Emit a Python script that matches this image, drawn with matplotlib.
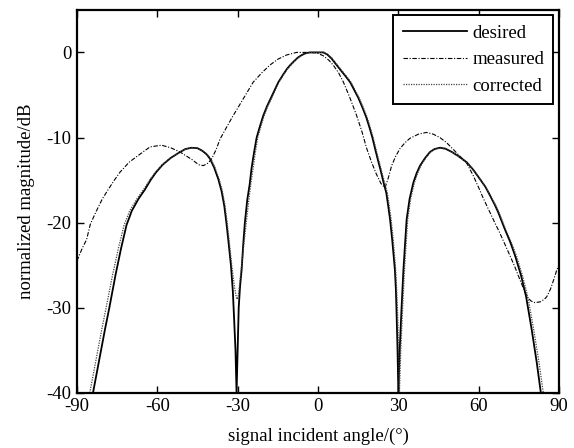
import matplotlib
matplotlib.use("Agg")
import matplotlib.pyplot as plt
import numpy as np

# values (angle in degrees, magnitude in dB)
desired_angle = [-84.0, -82.5, -81.0, -79.5, -77.9, -75.5, -73.5, -71.5, -69.5, -67.0,
                 -64.6, -62.5, -60.5, -58.0, -55.0, -52.0, -49.5, -47.2, -45.0, -43.0,
                 -41.5, -40.3, -38.8, -37.2, -36.0, -35.0, -34.2, -33.5, -32.5, -31.8,
                 -31.3, -30.8, -30.4,
                 -30.0, -29.6, -29.1, -28.5, -27.9, -27.3, -26.4, -25.5, -24.8, -23.9,
                 -22.9, -21.7, -20.4, -19.0, -17.5, -16.0, -14.8, -13.0, -11.5, -10.4,
                 -9.0, -7.5, -6.0, -4.5, -3.0, 2.0, 3.5, 5.0, 7.0, 8.5,
                 10.3, 12.0, 13.5, 15.0, 16.5, 18.0, 19.3, 20.3, 21.3, 22.5,
                 23.5, 24.4, 25.5, 26.2, 26.9, 27.7, 28.7, 29.1, 29.4, 29.7,
                 30.0,
                 30.5, 31.2, 31.9, 32.5, 33.1, 34.2, 35.6, 36.8, 38.1, 40.0,
                 41.8, 43.5, 45.5, 47.5, 50.0, 52.5, 55.5, 58.0, 60.5, 62.5,
                 64.2, 66.0, 67.3, 69.8, 71.8, 73.6, 75.8, 77.7, 79.8, 81.7,
                 83.2]
desired_db = [-40.0, -37.5, -35.0, -32.5, -30.0, -26.0, -23.0, -20.3, -18.6, -17.2,
              -16.1, -15.0, -14.1, -13.2, -12.4, -11.8, -11.35, -11.2, -11.25, -11.6,
              -12.0, -12.5, -13.5, -14.9, -16.3, -18.0, -20.0, -22.0, -25.0, -28.0,
              -31.4, -35.0, -40.0,
              -35.0, -30.0, -27.5, -25.5, -22.5, -20.0, -17.3, -15.5, -13.6, -11.8,
              -10.0, -8.7, -7.4, -6.3, -5.3, -4.3, -3.5, -2.6, -1.9, -1.5,
              -1.05, -0.6, -0.3, -0.08, 0.0, 0.0, -0.25, -0.7, -1.5, -2.1,
              -2.8, -3.5, -4.4, -5.3, -6.4, -7.6, -8.9, -10.0, -11.3, -12.8,
              -14.0, -15.2, -16.5, -18.0, -19.6, -22.0, -25.5, -28.0, -31.4, -35.0,
              -40.0,
              -35.0, -30.0, -25.5, -22.5, -19.6, -17.2, -15.3, -14.2, -13.3, -12.4,
              -11.7, -11.35, -11.2, -11.3, -11.7, -12.2, -12.9, -13.8, -14.9, -15.8,
              -16.8, -17.9, -18.8, -20.8, -22.3, -23.9, -26.2, -28.7, -32.6, -36.5,
              -40.0]

measured_angle = [-90.0, -88.0, -86.4, -85.0, -83.0, -80.5, -78.3, -76.0, -74.0, -70.5,
                  -67.1, -62.7, -58.4, -55.0, -51.5, -47.0, -44.5, -42.8, -41.0, -39.7,
                  -38.0, -36.6, -34.5, -32.0, -28.0, -24.2, -21.0, -18.0, -15.0, -11.7,
                  -8.0, -4.0, -0.5, 2.0, 4.0, 5.7, 7.7, 9.5, 12.0, 14.4,
                  16.4, 18.2, 20.0, 21.8, 23.5, 25.0, 26.2, 27.5, 29.0, 30.6,
                  32.5, 34.3, 37.5, 40.5, 43.0, 45.5, 48.0, 50.5, 53.0, 55.5,
                  58.0, 60.0, 61.8, 64.2, 66.0, 68.0, 70.0, 71.7, 73.5, 75.5,
                  78.0, 79.5, 81.0, 83.0, 84.5, 85.4, 86.8, 88.0, 89.1, 90.0]
measured_db = [-24.5, -23.0, -22.0, -20.2, -18.8, -17.2, -16.1, -15.0, -14.1, -12.9,
               -12.1, -11.1, -10.9, -11.2, -11.7, -12.6, -13.2, -13.3, -13.0, -12.5,
               -11.4, -10.2, -9.0, -7.6, -5.5, -3.5, -2.4, -1.5, -0.8, -0.3,
               0.0, 0.0, -0.05, -0.4, -0.9, -1.5, -2.4, -3.5, -5.4, -7.4,
               -9.3, -11.3, -12.9, -14.3, -15.4, -15.9, -14.8, -13.3, -12.2, -11.3,
               -10.6, -10.1, -9.6, -9.4, -9.6, -10.0, -10.6, -11.4, -12.2, -13.0,
               -14.5, -15.9, -17.2, -18.8, -20.0, -21.3, -22.7, -23.9, -25.2, -26.8,
               -28.7, -29.2, -29.4, -29.3, -29.0, -28.7, -27.8, -26.7, -25.6, -24.9]

corrected_angle = [-85.2, -83.7, -82.2, -80.7, -79.1, -76.6, -74.5, -72.4, -70.3, -67.6,
                   -65.1, -62.9, -60.8, -58.2, -55.1, -52.0, -49.4, -47.0, -44.8, -42.8,
                   -41.3, -40.0, -38.5, -36.9, -35.7, -34.7, -33.9, -33.2, -32.2, -31.2,
                   -30.6, -30.2,
                   -29.7, -29.2, -28.7, -28.0, -27.3, -26.6, -25.8, -25.1, -24.2, -23.4,
                   -22.5, -21.3, -20.1, -18.7, -17.2, -15.8, -14.6, -12.8, -11.3, -10.2,
                   -8.8, -7.3, -5.8, -4.3, -2.8, 2.2, 3.7, 5.3, 7.3, 8.8,
                   10.6, 12.3, 13.8, 15.3, 16.8, 18.3, 19.6, 20.6, 21.6, 22.8,
                   23.8, 24.8, 25.9, 26.6, 27.3, 28.1, 29.0, 29.4, 29.8, 30.1,
                   30.4,
                   30.9, 31.6, 32.3, 32.9, 33.5, 34.6, 36.0, 37.2, 38.4, 40.2,
                   42.0, 43.6, 45.5, 47.6, 50.1, 52.7, 55.7, 58.2, 60.8, 62.8,
                   64.5, 66.4, 67.7, 70.2, 72.3, 74.2, 76.4, 78.4, 80.6, 82.6,
                   84.1]
corrected_db = [-40.0, -37.5, -35.0, -32.5, -30.0, -26.0, -23.0, -20.3, -18.6, -17.2,
                -16.1, -15.0, -14.1, -13.2, -12.4, -11.8, -11.35, -11.2, -11.25, -11.6,
                -12.0, -12.5, -13.5, -14.9, -16.3, -18.0, -20.0, -22.0, -25.0, -27.5,
                -28.6, -29.0,
                -28.5, -27.0, -25.5, -23.5, -21.5, -19.5, -17.3, -15.5, -13.6, -11.8,
                -10.0, -8.7, -7.4, -6.3, -5.3, -4.3, -3.5, -2.6, -1.9, -1.5,
                -1.05, -0.6, -0.3, -0.08, 0.0, 0.0, -0.25, -0.7, -1.5, -2.1,
                -2.8, -3.5, -4.4, -5.3, -6.4, -7.6, -8.9, -10.0, -11.3, -12.8,
                -14.0, -15.2, -16.5, -18.0, -19.6, -22.0, -25.5, -28.0, -31.4, -35.0,
                -40.0,
                -35.0, -30.0, -25.5, -22.5, -19.6, -17.2, -15.3, -14.2, -13.3, -12.4,
                -11.7, -11.35, -11.25, -11.35, -11.75, -12.3, -13.0, -13.9, -15.0, -15.9,
                -16.9, -18.0, -18.9, -20.9, -22.4, -24.0, -26.3, -28.8, -32.7, -36.6,
                -40.0]

x_ticks = [-90, -60, -30, 0, 30, 60, 90]
y_ticks = [0, -10, -20, -30, -40]

plt.rcParams["font.family"] = ["Liberation Serif", "DejaVu Serif"]
plt.rcParams["axes.unicode_minus"] = False

fig = plt.figure(figsize=(5.74, 4.48), dpi=100)
ax = fig.add_axes([0.134, 0.123, 0.840, 0.855])

ax.plot(desired_angle, desired_db, color="black", lw=1.3, label="desired")
ax.plot(measured_angle, measured_db, color="black", lw=0.8,
        linestyle=(0, (4, 1.5, 1, 1.5)), label="measured")
ax.plot(corrected_angle, corrected_db, color="#444444", lw=0.9,
        linestyle=(0, (1, 1)), label="corrected")

ax.set_xlim(-90, 90)
ax.set_ylim(-40, 5)
ax.set_xticks(x_ticks)
ax.set_yticks(y_ticks)
ax.tick_params(direction="in", top=True, right=True, length=5, width=1,
               labelsize=13.5, pad=4)
for s in ax.spines.values():
    s.set_linewidth(1.6)

ax.set_xlabel("signal incident angle/(°)", fontsize=13.5, labelpad=9)
ax.set_ylabel("normalized magnitude/dB", fontsize=13.5, labelpad=8)

leg = ax.legend(loc="upper right", fontsize=13.5, fancybox=False, framealpha=1,
                edgecolor="black", handlelength=3.4, borderaxespad=0.3,
                labelspacing=0.5, handletextpad=0.3, borderpad=0.5)
leg.get_frame().set_linewidth(1.4)

fig.savefig("out.png", dpi=100)
